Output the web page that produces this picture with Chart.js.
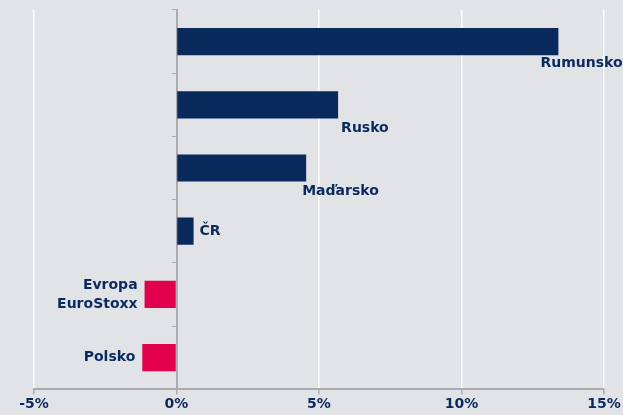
<!DOCTYPE html>
<html>
<head>
<meta charset="utf-8">
<script src="https://cdn.jsdelivr.net/npm/chart.js@4"></script>
<style>
    html, body { margin: 0; padding: 0; background: #e1e3e6; }
    #wrap { width: 623px; height: 415px; }
</style>
</head>
<body>
<div id="wrap"><canvas id="graf"></canvas></div>
<script>
// data
const zeme = ['Rumunsko', 'Rusko', 'Maďarsko', 'ČR', 'Evropa EuroStoxx', 'Polsko'];
const popisky = [['Rumunsko'], ['Rusko'], ['Maďarsko'], ['ČR'], ['Evropa', 'EuroStoxx'], ['Polsko']];
const zmena = [13.4, 5.67, 4.55, 0.6, -1.12, -1.2];
const osaX = [-5, 0, 5, 10, 15];

const modra = '#0a2a5e';
const cervena = '#e2004e';
const pismo = '"DejaVu Sans", Arial, sans-serif';

// kde stoji popisek vuci konci sloupce
const umisteni = [
    { mod: 'pod', dx: -18, dy: 8 },
    { mod: 'pod', dx: 3, dy: 10 },
    { mod: 'pod', dx: -4, dy: 10 },
    { mod: 'vpravo', dx: 6, dy: 0 },
    { mod: 'vlevo', dx: -7, dy: 0 },
    { mod: 'vlevo', dx: -7, dy: 0 }
];

const popiskyPlugin = {
    id: 'popisky',
    afterDatasetsDraw(chart) {
        const ctx = chart.ctx;
        const meta = chart.getDatasetMeta(0);
        ctx.save();
        ctx.font = 'bold 14px ' + pismo;
        ctx.fillStyle = modra;
        meta.data.forEach(function (bar, i) {
            const u = umisteni[i];
            const radky = popisky[i];
            const vyska = bar.height;
            let x, y, align;
            if (u.mod === 'pod') {
                x = bar.x + u.dx; y = bar.y + vyska / 2 + u.dy; align = 'left';
            } else if (u.mod === 'vpravo') {
                x = bar.x + u.dx; y = bar.y; align = 'left';
            } else {
                x = bar.x + u.dx; y = bar.y; align = 'right';
            }
            ctx.textAlign = align;
            ctx.textBaseline = 'middle';
            const lh = 19;
            const start = y - (radky.length - 1) * lh / 2;
            radky.forEach(function (r, k) { ctx.fillText(r, x, start + k * lh); });
        });
        ctx.restore();
    }
};

new Chart(document.getElementById('graf').getContext('2d'), {
    type: 'bar',
    data: {
        labels: zeme,
        datasets: [{
            data: zmena,
            backgroundColor: zmena.map(v => v < 0 ? cervena : modra),
            borderWidth: 0,
            categoryPercentage: 0.86,
            barPercentage: 0.5
        }]
    },
    options: {
        indexAxis: 'y',
        responsive: true,
        maintainAspectRatio: false,
        animation: false,
        layout: { padding: { top: 10, left: 34, right: 19, bottom: 0 } },
        plugins: { legend: { display: false }, tooltip: { enabled: false } },
        scales: {
            x: {
                min: -5, max: 15,
                afterBuildTicks: function (s) { s.ticks = osaX.map(v => ({ value: v })); },
                grid: {
                    color: ctx => ctx.tick && ctx.tick.value === 0 ? 'rgba(0,0,0,0)' : '#ffffff',
                    lineWidth: 1.5,
                    tickColor: '#a9abae',
                    tickLength: 5
                },
                border: { color: '#a9abae', width: 2 },
                ticks: {
                    color: modra,
                    font: { family: pismo, size: 14, weight: 'bold' },
                    padding: 2,
                    callback: v => v + '%'
                }
            },
            y: {
                position: { x: 0 },
                grid: {
                    offset: true,
                    drawOnChartArea: false,
                    tickColor: '#a9abae',
                    tickLength: 4
                },
                border: { color: '#a9abae', width: 2 },
                ticks: { display: false }
            }
        }
    },
    plugins: [popiskyPlugin]
});
</script>
</body>
</html>
